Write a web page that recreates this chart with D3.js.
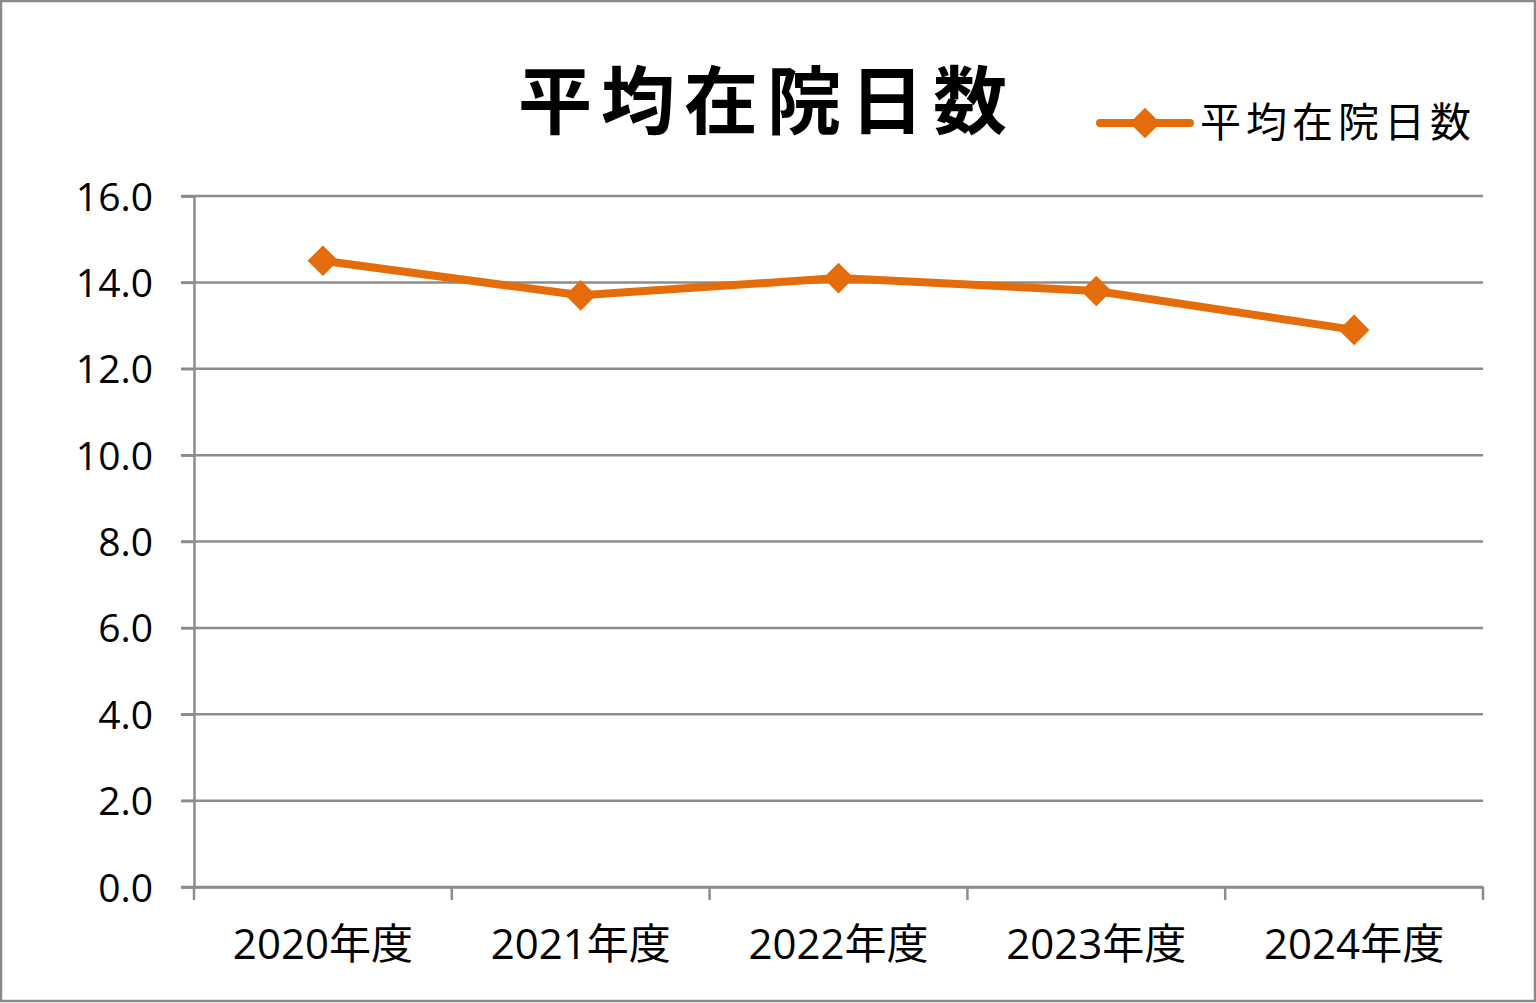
<!DOCTYPE html>
<html><head><meta charset="utf-8">
<script src="https://cdn.jsdelivr.net/npm/d3@7"></script>
<style>html,body{margin:0;padding:0;background:#fff;}svg{display:block;}</style>
</head><body>
<script>
const categories = ["2020年度","2021年度","2022年度","2023年度","2024年度"];
const values = [14.5, 13.7, 14.1, 13.8, 12.9];
const yTicks = [0,2,4,6,8,10,12,14,16];
const seriesName = "平均在院日数";
const titleText = "平均在院日数";

(function(){
const W = 1536, H = 1003;
const color = "#E46C0A";
const grid = "#8c8c8c";
const svg = d3.select("body").append("svg").attr("width", W).attr("height", H);
svg.append("rect").attr("x",1).attr("y",1).attr("width",W-2).attr("height",H-3)
  .attr("fill","#fff").attr("stroke","#898989").attr("stroke-width",2.5);

const pL = 194, pR = 1483, pT = 196, pB = 887;
const x = d3.scaleBand().domain(categories).range([pL, pR]);
const y = d3.scaleLinear().domain([0,16]).range([pB, pT]);
const font = "'Open Sans','Noto Sans CJK JP',sans-serif";

svg.append("g").selectAll("line").data(yTicks).join("line")
  .attr("x1", pL-13).attr("x2", pR)
  .attr("y1", d=>y(d)).attr("y2", d=>y(d))
  .attr("stroke", grid).attr("stroke-width", 2.5);

const yAxis = svg.append("g").attr("transform",`translate(${pL},0)`)
  .call(d3.axisLeft(y).tickValues(yTicks).tickFormat(d3.format(".1f")).tickSize(13).tickPadding(28));
yAxis.select(".domain").attr("stroke",grid).attr("stroke-width",2.5);
yAxis.selectAll(".tick line").attr("stroke",grid).attr("stroke-width",2.5);
yAxis.selectAll("text").attr("font-family",font).attr("font-size",39).attr("fill","#000").attr("dy","0.36em");

const xAxis = svg.append("g").attr("transform",`translate(0,${pB})`)
  .call(d3.axisBottom(x).tickSize(0).tickPadding(42));
xAxis.select(".domain").attr("stroke",grid).attr("stroke-width",2.5);
xAxis.selectAll("text").attr("font-family",font).attr("font-size",42).attr("fill","#000").attr("dy","0.71em");
const bounds = categories.map(c=>x(c)).concat([pR]);
svg.append("g").selectAll("line").data(bounds).join("line")
  .attr("x1",d=>d).attr("x2",d=>d).attr("y1",pB).attr("y2",pB+13)
  .attr("stroke",grid).attr("stroke-width",2.5);

const cx = d => x(d) + x.bandwidth()/2;
const pts = categories.map((c,i)=>[cx(c), y(values[i])]);
svg.append("path").attr("d", d3.line()(pts)).attr("fill","none")
  .attr("stroke",color).attr("stroke-width",8).attr("stroke-linejoin","round").attr("stroke-linecap","round");
const diamond = d3.symbol().type(d3.symbolDiamond2).size(600);
svg.append("g").selectAll("path").data(pts).join("path")
  .attr("transform",d=>`translate(${d[0]},${d[1]})`).attr("d",diamond).attr("fill",color);

svg.append("text").attr("x",767).attr("y",128).attr("text-anchor","middle")
  .attr("font-family","'Noto Sans CJK JP',sans-serif").attr("font-weight","bold")
  .attr("font-size",74).attr("letter-spacing",9).attr("fill","#000").text(titleText);

svg.append("line").attr("x1",1100).attr("x2",1190).attr("y1",123).attr("y2",123)
  .attr("stroke",color).attr("stroke-width",8).attr("stroke-linecap","round");
svg.append("path").attr("transform","translate(1145,123)").attr("d",diamond).attr("fill",color);
svg.append("text").attr("x",1200).attr("y",137)
  .attr("font-family","'Noto Sans CJK JP',sans-serif").attr("font-size",41)
  .attr("letter-spacing",5).attr("fill","#000").text(seriesName);
})();
</script>
</body></html>
